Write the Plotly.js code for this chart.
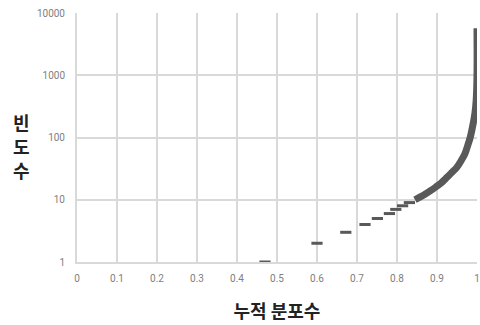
<!DOCTYPE html>
<html>
<head>
<meta charset="utf-8">
<script src="https://cdn.plot.ly/plotly-3.0.1.min.js"></script>
<style>html,body{margin:0;padding:0;background:#fff;}#chart{width:480px;height:325px;}</style>
</head>
<body>
<div id="chart"></div>
<script>
// Discrete frequency values (short dash marks)
const dashFreq = [1, 2, 3, 4, 5, 6, 7, 8, 9];
const dashCum  = [0.47, 0.60, 0.672, 0.72, 0.751, 0.781, 0.797, 0.814, 0.831];

// Dense part of the distribution (continuous band)
const bandFreq = [10, 11, 12, 14, 16, 18.5, 22, 27, 33.5, 42, 55, 75, 100, 150, 250, 400, 1000, 5700];
const bandCum  = [0.845, 0.857, 0.868, 0.884, 0.897, 0.91, 0.922, 0.936, 0.95, 0.96, 0.97, 0.977, 0.983, 0.989, 0.995, 0.998, 1.0, 1.0];

const xTickVals = [0, 0.1, 0.2, 0.3, 0.4, 0.5, 0.6, 0.7, 0.8, 0.9, 1];
const xTickText = ['0', '0.1', '0.2', '0.3', '0.4', '0.5', '0.6', '0.7', '0.8', '0.9', '1'];
const yTickVals = [1, 10, 100, 1000, 10000];
const yTickText = ['1', '10', '100', '1000', '10000'];
const yTitleChars = ['빈', '도', '수'];

const markColor = '#595959';
const tickFont = {family: 'Roboto, Liberation Sans, sans-serif', size: 10, color: '#808080'};
const titleFont = {family: 'Noto Sans CJK KR, sans-serif', size: 18, color: '#222222', weight: 700};

const traces = [
  {
    x: bandCum, y: bandFreq, type: 'scatter', mode: 'lines',
    line: {color: markColor, width: 7, shape: 'spline', smoothing: 1},
    cliponaxis: false, hoverinfo: 'skip', showlegend: false
  },
  {
    x: dashCum, y: dashFreq, type: 'scatter', mode: 'markers',
    marker: {symbol: 'line-ew', size: 8, line: {color: markColor, width: 3}},
    cliponaxis: false, showlegend: false
  }
];

const yTitleY = [0.562, 0.466, 0.369];

const layout = {
  width: 480, height: 325,
  margin: {l: 77, r: 3, t: 13, b: 63},
  paper_bgcolor: '#ffffff', plot_bgcolor: '#ffffff',
  showlegend: false,
  xaxis: {
    range: [0, 1], tickvals: xTickVals, ticktext: xTickText,
    showgrid: true, gridcolor: '#d9d9d9', gridwidth: 2,
    showline: true, linecolor: '#d9d9d9', linewidth: 2,
    zeroline: false, ticks: '', tickfont: tickFont, ticklabelstandoff: 6,
    title: {text: '누적 분포수', font: titleFont, standoff: 22}
  },
  yaxis: {
    type: 'log', range: [0, 4], tickvals: yTickVals, ticktext: yTickText,
    showgrid: true, gridcolor: '#d9d9d9', gridwidth: 2,
    showline: true, linecolor: '#d9d9d9', linewidth: 2,
    zeroline: false, ticks: '', tickfont: tickFont, ticklabelstandoff: 8
  },
  annotations: yTitleChars.map((ch, i) => ({
    text: ch, xref: 'paper', yref: 'paper',
    x: -0.1375, y: yTitleY[i], xanchor: 'center', yanchor: 'middle',
    showarrow: false, font: titleFont
  }))
};

Plotly.newPlot('chart', traces, layout, {staticPlot: true, displayModeBar: false});
</script>
</body>
</html>
